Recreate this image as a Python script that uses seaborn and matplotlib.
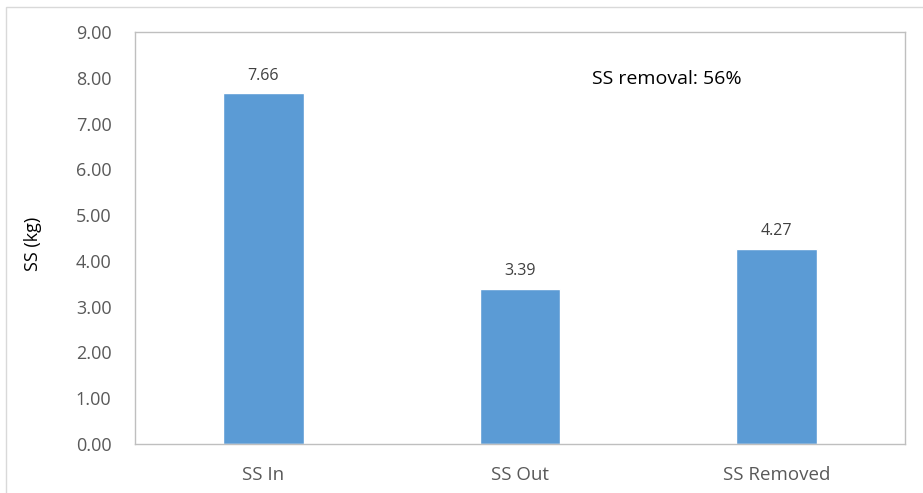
import matplotlib
matplotlib.use("Agg")
import matplotlib.pyplot as plt
import seaborn as sns
import pandas as pd
from matplotlib.patches import Rectangle

categories = ["SS In", "SS Out", "SS Removed"]
values = [7.66, 3.39, 4.27]
removal_text = "SS removal: 56%"

sns.set_theme(style="white")
plt.rcParams["font.family"] = ["Open Sans", "DejaVu Sans"]

df = pd.DataFrame({"cat": categories, "val": values})

fig = plt.figure(figsize=(9.23, 4.93), dpi=100)
ax = fig.add_axes([135 / 923, 1 - 444 / 493, 770 / 923, 412 / 493])

sns.barplot(data=df, x="cat", y="val", color="#5B9BD5", saturation=1,
            width=0.315, ax=ax)

ax.set_xlim(-0.5, 2.5)
ax.set_ylim(0, 9)
ax.set_yticks([i for i in range(10)])
ax.set_yticklabels([f"{i:.2f}" for i in range(10)])
ax.tick_params(axis="both", length=0, colors="#595959")
ax.tick_params(axis="y", pad=17, labelsize=13)
ax.tick_params(axis="x", pad=16, labelsize=13.5)
ax.set_xlabel("")
ax.set_ylabel("")
fig.text(33 / 923, 1 - 244 / 493, "SS (kg)", rotation=90, fontsize=13,
         color="black", ha="center", va="center")

for s in ax.spines.values():
    s.set_color("#BFBFBF")
    s.set_linewidth(1.0)

for i, v in enumerate(values):
    ax.annotate(f"{v:.2f}", (i, v), xytext=(0, 7), textcoords="offset points",
                ha="center", va="bottom", fontsize=11.5, color="#404040")

ax.text(0.593, 0.885, removal_text, transform=ax.transAxes, fontsize=14,
        color="black", ha="left", va="center")

# outer chart border
fig.patches.append(Rectangle((6 / 923, -0.05), 1.1, (493 - 7) / 493 + 0.05,
                             transform=fig.transFigure, fill=False,
                             edgecolor="#D9D9D9", linewidth=1.0))

fig.savefig("out.png", dpi=100)
